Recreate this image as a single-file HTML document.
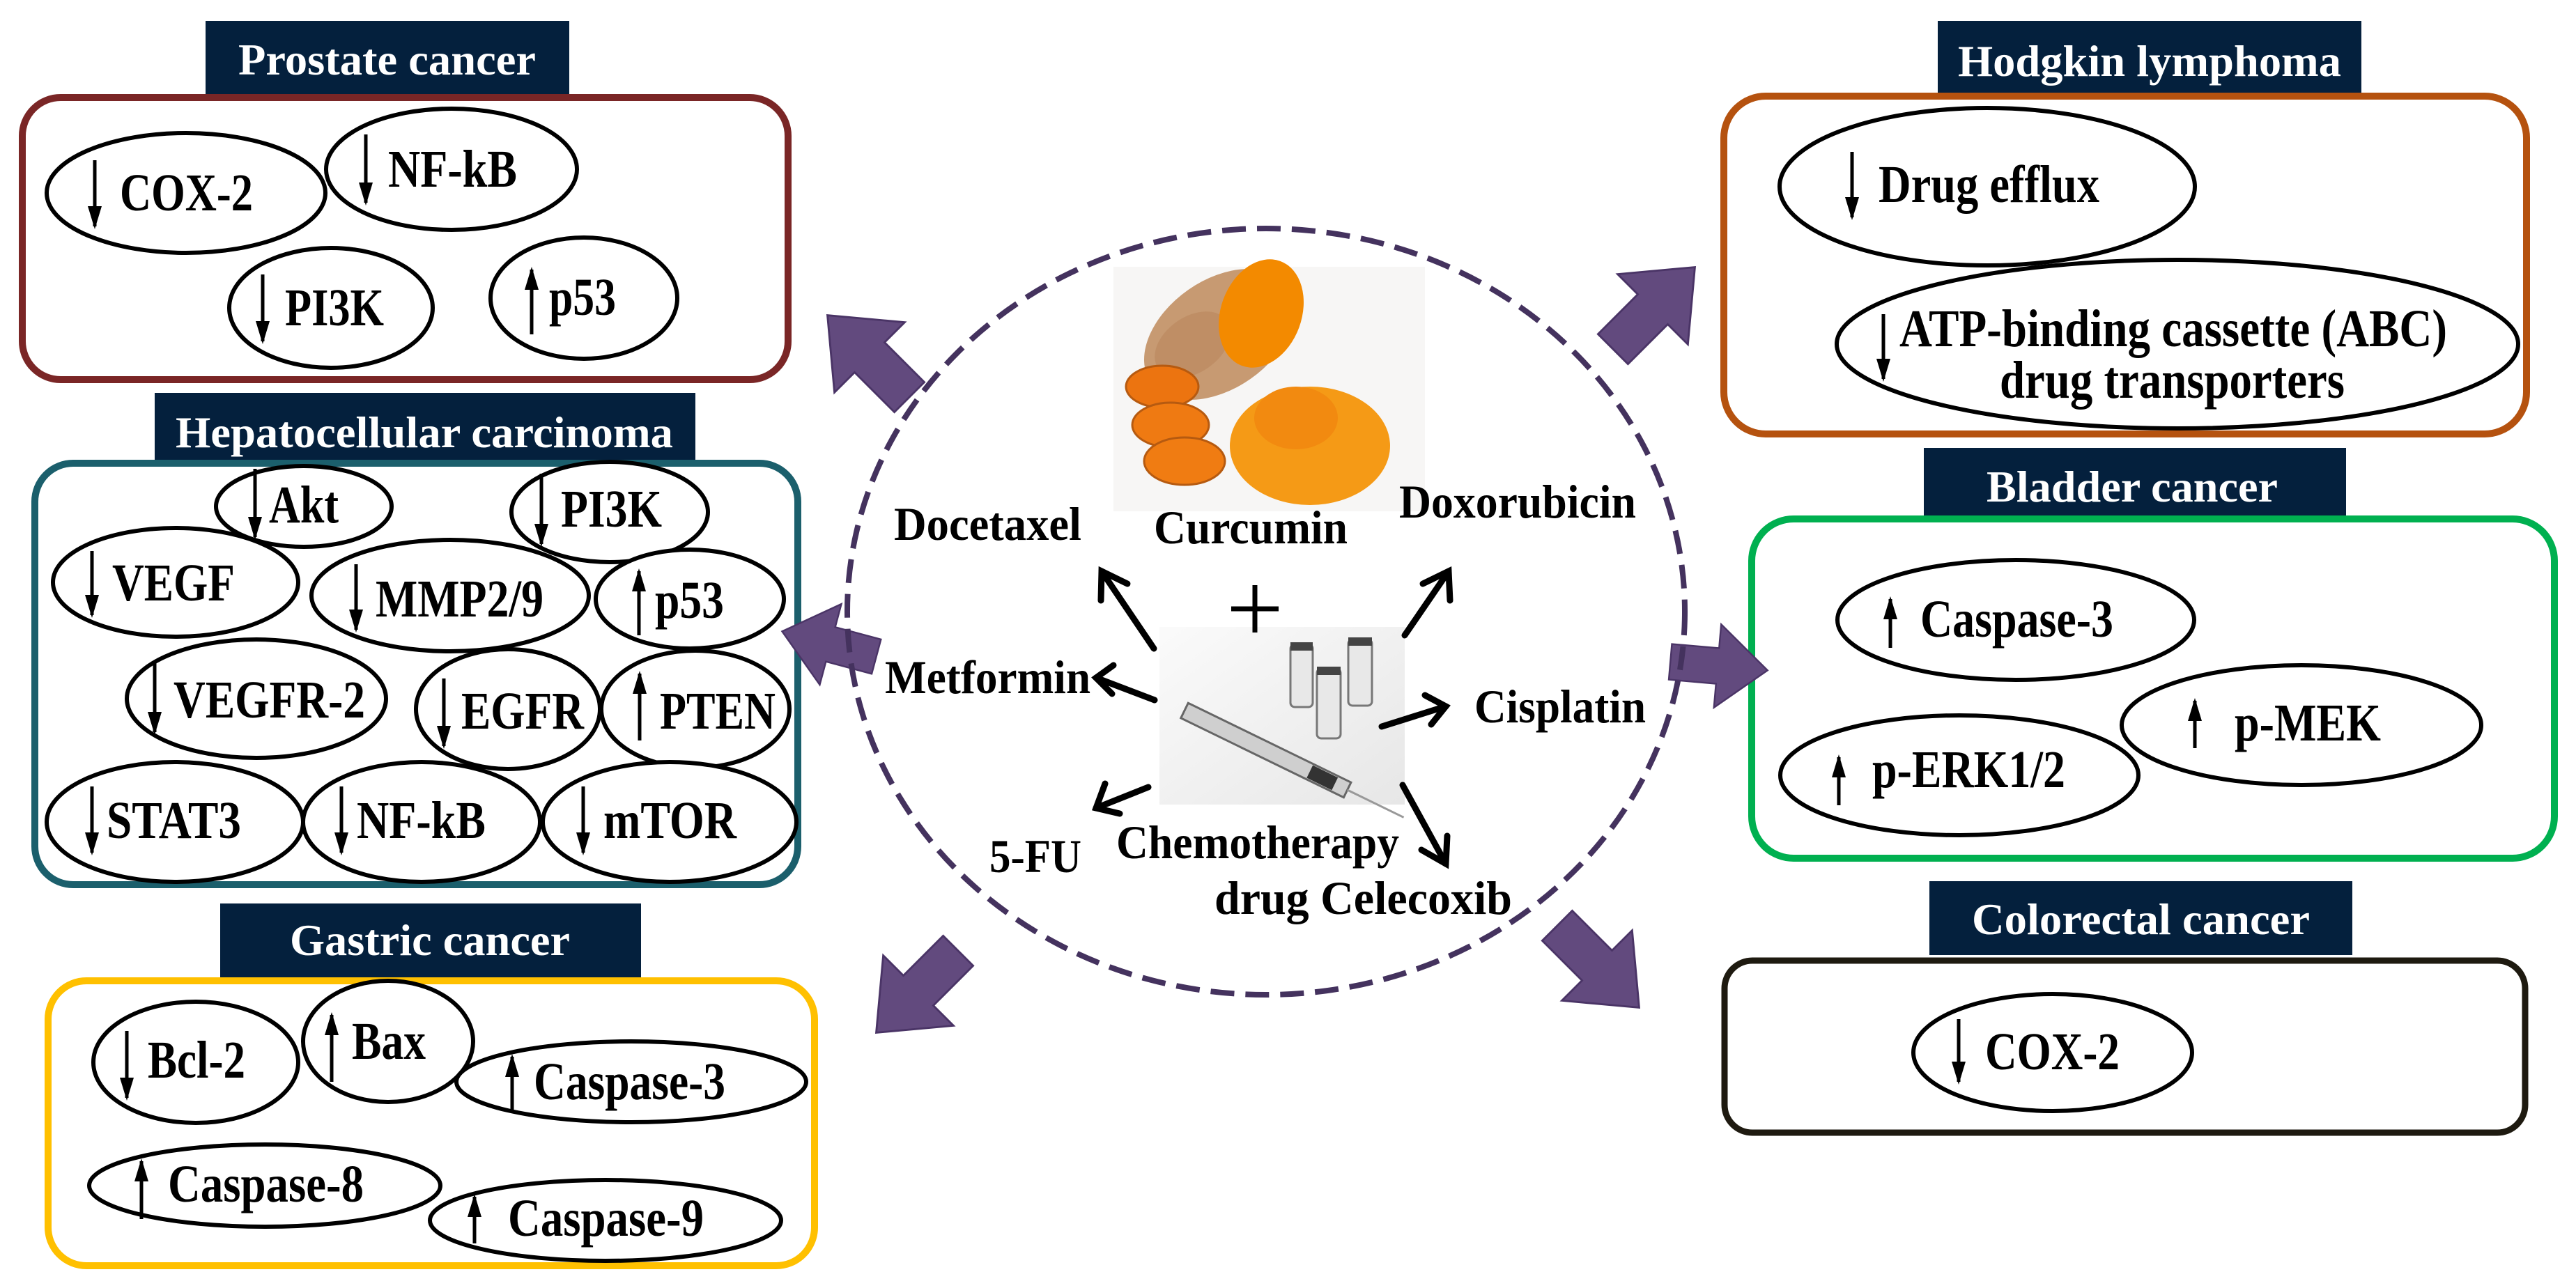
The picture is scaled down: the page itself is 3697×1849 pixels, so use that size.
<!DOCTYPE html>
<html><head><meta charset="utf-8"><style>
html,body{margin:0;padding:0;background:#fff;}
svg{display:block;}
.t{font-family:"Liberation Serif",serif;font-weight:bold;font-size:76px;fill:#000;}
.h{font-family:"Liberation Serif",serif;font-weight:bold;font-size:64px;fill:#fff;}
.c{font-family:"Liberation Serif",serif;font-weight:bold;font-size:68px;fill:#000;}
.e{fill:#fff;stroke:#000;stroke-width:6;}
.a{stroke:#000;stroke-width:5;fill:none;}
.ah{fill:#000;}
.ba{fill:#624a7e;stroke:#4a3466;stroke-width:3;}
.k{stroke:#000;stroke-width:9;fill:none;stroke-linecap:round;stroke-linejoin:miter;}
</style></head><body>
<svg width="3697" height="1849" viewBox="0 0 3697 1849" xmlns="http://www.w3.org/2000/svg">
<defs>
<polygon id="blk" points="-85,-32 0,-32 0,-75 90,0 0,75 0,32 -85,32"/>
<linearGradient id="gs" x1="0" y1="0" x2="1" y2="1"><stop offset="0" stop-color="#fafafa"/><stop offset="1" stop-color="#e4e4e4"/></linearGradient>
</defs>

<!-- ===== Prostate ===== -->
<rect x="295" y="30" width="522" height="106" fill="#04203d"/>
<text class="h" x="342" y="107" textLength="427" lengthAdjust="spacingAndGlyphs">Prostate cancer</text>
<rect x="32" y="140" width="1099" height="405" rx="55" fill="none" stroke="#7a2626" stroke-width="10"/>
<ellipse class="e" cx="267" cy="277" rx="200" ry="86"/>
<ellipse class="e" cx="648" cy="243" rx="180" ry="87"/>
<ellipse class="e" cx="475" cy="442" rx="146" ry="86"/>
<ellipse class="e" cx="838" cy="428" rx="134" ry="87"/>
<text class="t" x="172" y="302" textLength="191" lengthAdjust="spacingAndGlyphs">COX-2</text>
<text class="t" x="557" y="268" textLength="185" lengthAdjust="spacingAndGlyphs">NF-kB</text>
<text class="t" x="409" y="467" textLength="142" lengthAdjust="spacingAndGlyphs">PI3K</text>
<text class="t" x="788" y="452" textLength="96" lengthAdjust="spacingAndGlyphs">p53</text>
<g>
<line class="a" x1="136" y1="230" x2="136" y2="325"/><polygon class="ah" points="126,296 136,329 146,296"/>
<line class="a" x1="525" y1="193" x2="525" y2="291"/><polygon class="ah" points="515,262 525,295 535,262"/>
<line class="a" x1="377" y1="394" x2="377" y2="490"/><polygon class="ah" points="367,461 377,494 387,461"/>
<line class="a" x1="763" y1="480" x2="763" y2="387"/><polygon class="ah" points="753,416 763,383 773,416"/>
</g>

<!-- ===== Hepatocellular ===== -->
<rect x="222" y="564" width="776" height="99" fill="#04203d"/>
<text class="h" x="252" y="642" textLength="714" lengthAdjust="spacingAndGlyphs">Hepatocellular carcinoma</text>
<rect x="50" y="665" width="1095" height="605" rx="55" fill="none" stroke="#1b5f6c" stroke-width="10"/>
<ellipse class="e" cx="436" cy="727" rx="126" ry="58"/>
<ellipse class="e" cx="875" cy="735" rx="141" ry="72"/>
<ellipse class="e" cx="252" cy="836" rx="176" ry="78"/>
<ellipse class="e" cx="646" cy="855" rx="199" ry="80"/>
<ellipse class="e" cx="990" cy="860" rx="135" ry="71"/>
<ellipse class="e" cx="368" cy="1003" rx="186" ry="85"/>
<ellipse class="e" cx="729" cy="1018" rx="132" ry="86"/>
<ellipse class="e" cx="998" cy="1018" rx="135" ry="84"/>
<ellipse class="e" cx="251" cy="1180" rx="184" ry="86"/>
<ellipse class="e" cx="605" cy="1180" rx="170" ry="86"/>
<ellipse class="e" cx="961" cy="1180" rx="182" ry="86"/>
<text class="t" x="386" y="750" textLength="100" lengthAdjust="spacingAndGlyphs">Akt</text>
<text class="t" x="805" y="756" textLength="145" lengthAdjust="spacingAndGlyphs">PI3K</text>
<text class="t" x="161" y="862" textLength="176" lengthAdjust="spacingAndGlyphs">VEGF</text>
<text class="t" x="539" y="885" textLength="241" lengthAdjust="spacingAndGlyphs">MMP2/9</text>
<text class="t" x="940" y="887" textLength="99" lengthAdjust="spacingAndGlyphs">p53</text>
<text class="t" x="249" y="1030" textLength="275" lengthAdjust="spacingAndGlyphs">VEGFR-2</text>
<text class="t" x="662" y="1046" textLength="176" lengthAdjust="spacingAndGlyphs">EGFR</text>
<text class="t" x="947" y="1046" textLength="166" lengthAdjust="spacingAndGlyphs">PTEN</text>
<text class="t" x="153" y="1203" textLength="193" lengthAdjust="spacingAndGlyphs">STAT3</text>
<text class="t" x="512" y="1203" textLength="185" lengthAdjust="spacingAndGlyphs">NF-kB</text>
<text class="t" x="866" y="1203" textLength="191" lengthAdjust="spacingAndGlyphs">mTOR</text>
<g>
<line class="a" x1="366" y1="673" x2="366" y2="771"/><polygon class="ah" points="356,742 366,775 376,742"/>
<line class="a" x1="777" y1="680" x2="777" y2="781"/><polygon class="ah" points="767,752 777,785 787,752"/>
<line class="a" x1="132" y1="791" x2="132" y2="883"/><polygon class="ah" points="122,854 132,887 142,854"/>
<line class="a" x1="511" y1="810" x2="511" y2="904"/><polygon class="ah" points="501,875 511,908 521,875"/>
<line class="a" x1="917" y1="912" x2="917" y2="820"/><polygon class="ah" points="907,849 917,816 927,849"/>
<line class="a" x1="222" y1="949" x2="222" y2="1051"/><polygon class="ah" points="212,1022 222,1055 232,1022"/>
<line class="a" x1="637" y1="974" x2="637" y2="1071"/><polygon class="ah" points="627,1042 637,1075 647,1042"/>
<line class="a" x1="918" y1="1063" x2="918" y2="967"/><polygon class="ah" points="908,996 918,963 928,996"/>
<line class="a" x1="132" y1="1129" x2="132" y2="1224"/><polygon class="ah" points="122,1195 132,1228 142,1195"/>
<line class="a" x1="490" y1="1129" x2="490" y2="1224"/><polygon class="ah" points="480,1195 490,1228 500,1195"/>
<line class="a" x1="837" y1="1129" x2="837" y2="1224"/><polygon class="ah" points="827,1195 837,1228 847,1195"/>
</g>

<!-- ===== Gastric ===== -->
<rect x="316" y="1297" width="604" height="107" fill="#04203d"/>
<text class="h" x="416" y="1371" textLength="402" lengthAdjust="spacingAndGlyphs">Gastric cancer</text>
<rect x="69" y="1408" width="1100" height="409" rx="55" fill="none" stroke="#ffc000" stroke-width="10"/>
<ellipse class="e" cx="281" cy="1525" rx="147" ry="87"/>
<ellipse class="e" cx="557" cy="1495" rx="122" ry="87"/>
<ellipse class="e" cx="906" cy="1553" rx="251" ry="58"/>
<ellipse class="e" cx="380" cy="1702" rx="252" ry="59"/>
<ellipse class="e" cx="869" cy="1752" rx="252" ry="58"/>
<text class="t" x="212" y="1547" textLength="140" lengthAdjust="spacingAndGlyphs">Bcl-2</text>
<text class="t" x="505" y="1520" textLength="106" lengthAdjust="spacingAndGlyphs">Bax</text>
<text class="t" x="766" y="1578" textLength="275" lengthAdjust="spacingAndGlyphs">Caspase-3</text>
<text class="t" x="241" y="1725" textLength="281" lengthAdjust="spacingAndGlyphs">Caspase-8</text>
<text class="t" x="729" y="1774" textLength="281" lengthAdjust="spacingAndGlyphs">Caspase-9</text>
<g>
<line class="a" x1="182" y1="1480" x2="182" y2="1576"/><polygon class="ah" points="172,1547 182,1580 192,1547"/>
<line class="a" x1="476" y1="1553" x2="476" y2="1457"/><polygon class="ah" points="466,1486 476,1453 486,1486"/>
<line class="a" x1="735" y1="1594" x2="735" y2="1517"/><polygon class="ah" points="725,1546 735,1513 745,1546"/>
<line class="a" x1="203" y1="1750" x2="203" y2="1667"/><polygon class="ah" points="193,1696 203,1663 213,1696"/>
<line class="a" x1="681" y1="1785" x2="681" y2="1718"/><polygon class="ah" points="671,1747 681,1714 691,1747"/>
</g>

<!-- ===== Hodgkin ===== -->
<rect x="2781" y="30" width="608" height="107" fill="#04203d"/>
<text class="h" x="2810" y="109" textLength="550" lengthAdjust="spacingAndGlyphs">Hodgkin lymphoma</text>
<rect x="2474" y="138" width="1152" height="485" rx="60" fill="none" stroke="#b5520f" stroke-width="10"/>
<ellipse class="e" cx="2852" cy="268" rx="298" ry="113"/>
<ellipse class="e" cx="3125" cy="494" rx="489" ry="121"/>
<text class="t" x="2696" y="290" textLength="317" lengthAdjust="spacingAndGlyphs">Drug efflux</text>
<text class="t" x="2726" y="497" textLength="786" lengthAdjust="spacingAndGlyphs">ATP-binding cassette (ABC)</text>
<text class="t" x="2870" y="571" textLength="495" lengthAdjust="spacingAndGlyphs">drug transporters</text>
<line class="a" x1="2658" y1="218" x2="2658" y2="312"/><polygon class="ah" points="2648,283 2658,316 2668,283"/>
<line class="a" x1="2703" y1="451" x2="2703" y2="544"/><polygon class="ah" points="2693,515 2703,548 2713,515"/>

<!-- ===== Bladder ===== -->
<rect x="2761" y="643" width="606" height="106" fill="#04203d"/>
<text class="h" x="2851" y="720" textLength="418" lengthAdjust="spacingAndGlyphs">Bladder cancer</text>
<rect x="2514" y="745" width="1152" height="487" rx="60" fill="none" stroke="#00b050" stroke-width="10"/>
<ellipse class="e" cx="2893" cy="890" rx="256" ry="86"/>
<ellipse class="e" cx="3303" cy="1041" rx="258" ry="86"/>
<ellipse class="e" cx="2812" cy="1113" rx="257" ry="86"/>
<text class="t" x="2756" y="914" textLength="277" lengthAdjust="spacingAndGlyphs">Caspase-3</text>
<text class="t" x="3207" y="1063" textLength="210" lengthAdjust="spacingAndGlyphs">p-MEK</text>
<text class="t" x="2687" y="1130" textLength="277" lengthAdjust="spacingAndGlyphs">p-ERK1/2</text>
<line class="a" x1="2713" y1="930" x2="2713" y2="860"/><polygon class="ah" points="2703,889 2713,856 2723,889"/>
<line class="a" x1="3150" y1="1074" x2="3150" y2="1006"/><polygon class="ah" points="3140,1035 3150,1002 3160,1035"/>
<line class="a" x1="2639" y1="1156" x2="2639" y2="1087"/><polygon class="ah" points="2629,1116 2639,1083 2649,1116"/>

<!-- ===== Colorectal ===== -->
<rect x="2769" y="1265" width="607" height="106" fill="#04203d"/>
<text class="h" x="2830" y="1341" textLength="485" lengthAdjust="spacingAndGlyphs">Colorectal cancer</text>
<rect x="2475" y="1379" width="1149" height="247" rx="40" fill="none" stroke="#1e1a10" stroke-width="9"/>
<ellipse class="e" cx="2946" cy="1511" rx="200" ry="84"/>
<text class="t" x="2849" y="1535" textLength="193" lengthAdjust="spacingAndGlyphs">COX-2</text>
<line class="a" x1="2811" y1="1463" x2="2811" y2="1553"/><polygon class="ah" points="2801,1524 2811,1557 2821,1524"/>

<!-- ===== Block arrows ===== -->
<use href="#blk" class="ba" transform="translate(1248,513) rotate(-135) scale(0.95)"/>
<use href="#blk" class="ba" transform="translate(2372,444) rotate(-45) scale(0.95)"/>
<use href="#blk" class="ba" transform="translate(1192,925) rotate(195) scale(0.8)"/>
<use href="#blk" class="ba" transform="translate(2465,956) rotate(5) scale(0.8)"/>
<use href="#blk" class="ba" transform="translate(2292,1386) rotate(45) scale(0.95)"/>
<use href="#blk" class="ba" transform="translate(1318,1422) rotate(135) scale(0.95)"/>

<!-- ===== Center dashed circle ===== -->
<ellipse cx="1817" cy="878" rx="601" ry="550" fill="none" stroke="#44325e" stroke-width="8" stroke-dasharray="34,16"/>

<!-- turmeric picture -->
<rect x="1598" y="383" width="447" height="351" fill="#f7f6f5"/>
<g transform="translate(1750,480) rotate(-35)">
<ellipse cx="0" cy="0" rx="120" ry="78" fill="#c79a72"/>
<ellipse cx="-40" cy="-10" rx="60" ry="40" fill="#b9875e" opacity="0.6"/>
</g>
<ellipse cx="1810" cy="450" rx="58" ry="80" fill="#f38a00" transform="rotate(20 1810 450)"/>
<ellipse cx="1880" cy="640" rx="115" ry="85" fill="#f59a16"/>
<ellipse cx="1860" cy="600" rx="60" ry="45" fill="#f28a10"/>
<ellipse cx="1668" cy="555" rx="52" ry="30" fill="#ec7410" stroke="#b65a10" stroke-width="3"/>
<ellipse cx="1680" cy="610" rx="55" ry="32" fill="#ef7a12" stroke="#b65a10" stroke-width="3"/>
<ellipse cx="1700" cy="662" rx="58" ry="34" fill="#f07c12" stroke="#b65a10" stroke-width="3"/>

<!-- chemo picture -->
<rect x="1664" y="900" width="352" height="255" fill="url(#gs)" opacity="0.9"/>
<g fill="#e8e8e8" stroke="#777" stroke-width="3">
<rect x="1852" y="925" width="32" height="90" rx="6"/>
<rect x="1935" y="918" width="34" height="95" rx="6"/>
<rect x="1890" y="960" width="34" height="100" rx="6"/>
</g>
<g fill="#444"><rect x="1852" y="922" width="32" height="12"/><rect x="1935" y="915" width="34" height="12"/><rect x="1890" y="957" width="34" height="12"/></g>
<g transform="translate(1700,1020) rotate(26)">
<rect x="0" y="-12" width="260" height="24" fill="#cfcfcf" stroke="#666" stroke-width="3"/>
<rect x="200" y="-10" width="40" height="20" fill="#333"/>
<line x1="260" y1="0" x2="350" y2="0" stroke="#999" stroke-width="3"/>
</g>

<!-- center labels -->
<text class="c" x="1283" y="775" textLength="269" lengthAdjust="spacingAndGlyphs">Docetaxel</text>
<text class="c" x="1656" y="780" textLength="278" lengthAdjust="spacingAndGlyphs">Curcumin</text>
<text class="c" x="2008" y="743" textLength="340" lengthAdjust="spacingAndGlyphs">Doxorubicin</text>
<text class="c" x="1270" y="995" textLength="295" lengthAdjust="spacingAndGlyphs">Metformin</text>
<text class="c" x="2116" y="1037" textLength="246" lengthAdjust="spacingAndGlyphs">Cisplatin</text>
<text class="c" x="1420" y="1252" textLength="132" lengthAdjust="spacingAndGlyphs">5-FU</text>
<text class="c" x="1602" y="1232" textLength="406" lengthAdjust="spacingAndGlyphs">Chemotherapy</text>
<text class="c" x="1743" y="1312" textLength="427" lengthAdjust="spacingAndGlyphs">drug  Celecoxib</text>
<g stroke="#000" stroke-width="7"><line x1="1801" y1="840" x2="1801" y2="908"/><line x1="1767" y1="874" x2="1835" y2="874"/></g>

<!-- black arrows -->
<g class="k">
<line x1="1656" y1="931" x2="1581" y2="820"/><polyline points="1580,862 1581,820 1618,838"/>
<line x1="2016" y1="912" x2="2079" y2="820"/><polyline points="2042,838 2079,820 2081,862"/>
<line x1="1657" y1="1005" x2="1573" y2="973"/><polyline points="1598,955 1573,973 1596,996"/>
<line x1="1983" y1="1043" x2="2075" y2="1014"/><polyline points="2045,998 2075,1014 2054,1040"/>
<line x1="1648" y1="1130" x2="1573" y2="1160"/><polyline points="1586,1125 1573,1160 1607,1168"/>
<line x1="2013" y1="1127" x2="2075" y2="1240"/><polyline points="2040,1220 2075,1240 2077,1200"/>
</g>
</svg>
</body></html>
